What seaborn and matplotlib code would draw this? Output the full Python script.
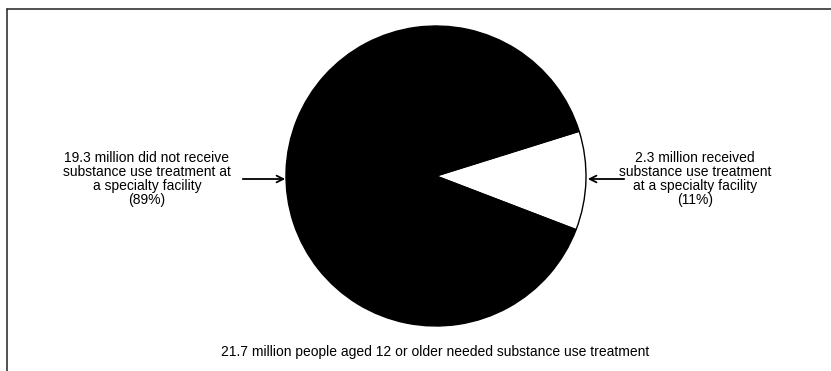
import matplotlib
matplotlib.use("Agg")
import matplotlib.pyplot as plt
import seaborn as sns
from matplotlib import font_manager

sns.set_theme(style="white")

names = {f.name for f in font_manager.fontManager.ttflist}
family = ["Liberation Sans Narrow", "DejaVu Sans"] if "Liberation Sans Narrow" in names else ["Liberation Sans", "DejaVu Sans"]
plt.rcParams["font.family"] = family

# Treatment status, millions of people aged 12+
groups = ["Received treatment at a specialty facility", "Did not receive treatment at a specialty facility"]
millions = [2.3, 19.3]
percents = [11, 89]
total = 21.7

left_label = (f"{millions[1]} million did not receive\nsubstance use treatment at\n"
              f"a specialty facility\n({percents[1]}%)")
right_label = (f"{millions[0]} million received\nsubstance use treatment\n"
               f"at a specialty facility\n({percents[0]}%)")
caption = f"{total} million people aged 12 or older needed substance use treatment"

W, H = 831, 371
fig = plt.figure(figsize=(W / 100, H / 100), dpi=100)
ax = fig.add_axes([0, 0, 1, 1])

share = millions[0] / sum(millions)
ax.pie(millions, colors=["white", "black"], startangle=-share * 180 + 1.8,
       center=(436, 176), radius=150, frame=True,
       wedgeprops=dict(edgecolor="black", linewidth=1.0))
ax.set_xlim(0, W)
ax.set_ylim(H, 0)
ax.set_aspect("equal")
ax.axis("off")

# outer frame: top rule and left rule
ax.plot([7, W], [9, 9], color="#222222", lw=1.1)
ax.plot([7, 7], [9, H], color="#222222", lw=1.1)

txt = dict(ha="center", va="center", fontsize=10, linespacing=0.98, color="black")
ax.text(147, 179, left_label, **txt)
ax.text(695, 179, right_label, **txt)

arrow = dict(arrowstyle="->", color="black", lw=1.3, mutation_scale=12)
ax.annotate("", xy=(288, 179), xytext=(240, 179), arrowprops=arrow)
ax.annotate("", xy=(585, 179), xytext=(627, 179), arrowprops=arrow)

ax.text(435, 352, caption, ha="center", va="center", fontsize=10, color="black")

fig.savefig("out.png", dpi=100)
